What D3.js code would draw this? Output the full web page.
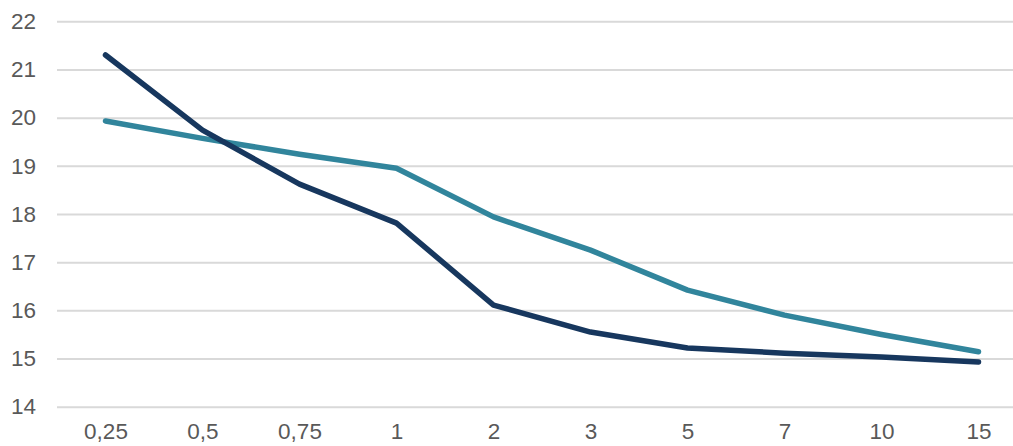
<!DOCTYPE html>
<html><head><meta charset="utf-8">
<script src="https://cdn.jsdelivr.net/npm/d3@7"></script>
<style>body{margin:0;background:#fff}svg{display:block}</style>
</head><body>
<svg id="c" width="1013" height="446"></svg>
<script>
const categories = ["0,25","0,5","0,75","1","2","3","5","7","10","15"];
const seriesDark = [21.30,19.74,18.62,17.81,16.11,15.55,15.22,15.11,15.03,14.93];
const seriesTeal = [19.93,19.57,19.24,18.95,17.94,17.25,16.42,15.90,15.50,15.14];
const yTicks = [14,15,16,17,18,19,20,21,22];

(function(){
const svg = d3.select("#c");
const mLeft = 57, mRight = 1027, mTop = 21.3, mBottom = 406.7;
const x = d3.scalePoint().domain(categories).range([mLeft, mRight]).padding(0.5);
const y = d3.scaleLinear().domain([14,22]).range([mBottom, mTop]);

const font = "'Liberation Sans', Arial, sans-serif";
const yAxis = d3.axisLeft(y).tickValues(yTicks).tickSize(-(mRight-mLeft)).tickPadding(21).tickFormat(d3.format("d"));
const gy = svg.append("g").attr("transform",`translate(${mLeft},0)`).call(yAxis);
gy.select(".domain").remove();
gy.selectAll(".tick line").attr("stroke","#d9d9d9").attr("stroke-width",2);
gy.selectAll(".tick text").attr("fill","#595959").style("font-family",font).style("font-size","22.5px");

const xAxis = d3.axisBottom(x).tickSize(0).tickPadding(16);
const gx = svg.append("g").attr("transform",`translate(0,${mBottom})`).call(xAxis);
gx.select(".domain").remove();
gx.selectAll(".tick text").attr("fill","#595959").style("font-family",font).style("font-size","22.5px");

const line = d3.line().x((d,i)=>x(categories[i])).y(d=>y(d));
[[seriesTeal,"#31859C"],[seriesDark,"#17375E"]].forEach(([s,c])=>{
  svg.append("path").datum(s).attr("d",line).attr("fill","none").attr("stroke",c)
    .attr("stroke-width",5.5).attr("stroke-linecap","round").attr("stroke-linejoin","round");
});
})();
</script>
</body></html>
